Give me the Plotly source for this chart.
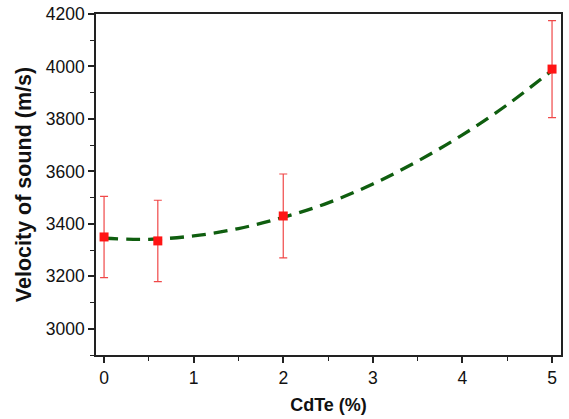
import plotly.graph_objects as go

# Measured data
cdte = [0, 0.6, 2, 5]
velocity = [3350, 3335, 3430, 3990]
err = [155, 155, 160, 185]

# Fit curve
fit_x = [0, 0.5, 1, 1.5, 2, 2.5, 3, 3.5, 4, 4.5, 5]
fit_y = [3345, 3341, 3354, 3382, 3425, 3480, 3552, 3639, 3739, 3854, 3985]

x_ticks = [0, 1, 2, 3, 4, 5]
y_ticks = [3000, 3200, 3400, 3600, 3800, 4000, 4200]

fig = go.Figure()
fig.add_trace(go.Scatter(
    x=fit_x, y=fit_y, mode="lines", line_shape="spline",
    line=dict(color="#0f5e0f", width=3.3, dash="14px,8px"),
    showlegend=False, hoverinfo="skip"))
fig.add_trace(go.Scatter(
    x=cdte, y=velocity, mode="markers",
    marker=dict(symbol="square", size=9, color="#ff1414"),
    error_y=dict(type="data", array=err, visible=True, color="#f04848",
                 thickness=1.2, width=4),
    showlegend=False))

font = "Liberation Sans, Arial, sans-serif"
fig.update_layout(
    width=569, height=419,
    margin=dict(l=96, r=8, t=14, b=64, autoexpand=False),
    paper_bgcolor="white", plot_bgcolor="white",
    font=dict(family=font, size=17.5, color="#111"),
)
fig.update_xaxes(
    range=[-0.09, 5.1], tickvals=x_ticks,
    showgrid=False, zeroline=False,
    showline=True, linecolor="#222", linewidth=1.5, mirror=True,
    ticks="outside", ticklen=6, tickwidth=1.5, tickcolor="#222",
    minor=dict(dtick=0.5, ticks="outside", ticklen=4, tickwidth=1.2, tickcolor="#222"),
    title=dict(text="<b>CdTe (%)</b>", font=dict(size=18), standoff=12),
    tickfont=dict(size=17.5), automargin=False, ticklabeloverflow="allow",
)
fig.update_yaxes(
    range=[2900, 4200], tickvals=y_ticks,
    showgrid=False, zeroline=False,
    showline=True, linecolor="#222", linewidth=1.5, mirror=True,
    ticks="outside", ticklen=6, tickwidth=1.5, tickcolor="#222",
    minor=dict(dtick=100, ticks="outside", ticklen=4, tickwidth=1.2, tickcolor="#222"),
    title=dict(text="<b>Velocity of sound (m/s)</b>", font=dict(size=21.5), standoff=8),
    tickfont=dict(size=17.5), automargin=False, ticklabeloverflow="allow",
)
fig.write_html("out.html", config={"displayModeBar": False},
               post_script="document.body.style.margin='0px';")
